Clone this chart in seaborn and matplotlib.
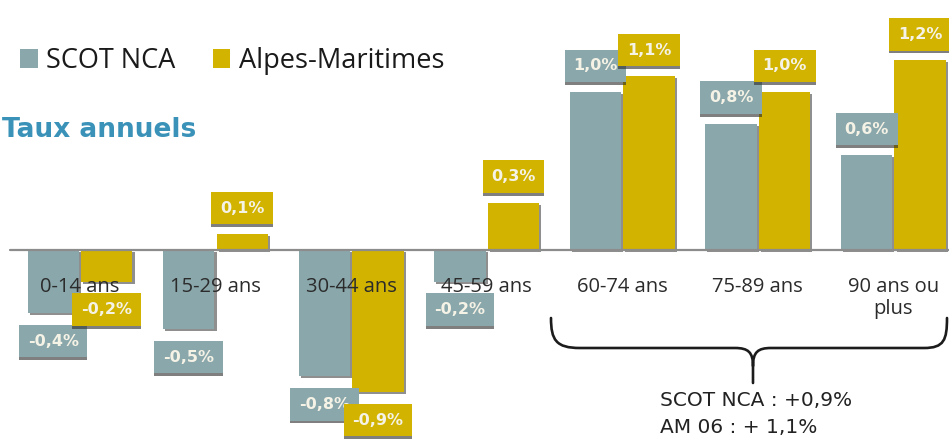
import matplotlib
matplotlib.use("Agg")
import matplotlib.pyplot as plt
import matplotlib.patheffects as pe
from matplotlib.patches import Patch, PathPatch
from matplotlib.path import Path
import pandas as pd
import seaborn as sns

# Age groups and annual growth rates (%)
age_groups = ["0-14 ans", "15-29 ans", "30-44 ans", "45-59 ans",
              "60-74 ans", "75-89 ans", "90 ans ou\nplus"]
scot_nca = [-0.4, -0.5, -0.8, -0.2, 1.0, 0.8, 0.6]
alpes_maritimes = [-0.2, 0.1, -0.9, 0.3, 1.1, 1.0, 1.2]
series_names = ["SCOT NCA", "Alpes-Maritimes"]
summary_lines = ["SCOT NCA : +0,9%", "AM 06 : + 1,1%"]
title_text = "Taux annuels"

GREY = "#8aa7ab"
GOLD = "#d2b300"
LABEL_TXT = "#f5f2e6"

df = pd.DataFrame({
    "age": age_groups * 2,
    "taux": scot_nca + alpes_maritimes,
    "zone": [series_names[0]] * len(age_groups) + [series_names[1]] * len(age_groups),
})

W, H = 949, 440
sns.set_theme(style="white")
plt.rcParams["font.family"] = ["Open Sans", "DejaVu Sans"]

fig = plt.figure(figsize=(W / 100, H / 100), dpi=100)
ax = fig.add_axes([0, 0, 1, 1])

sns.barplot(data=df, x="age", y="taux", hue="zone", order=age_groups,
            hue_order=series_names, palette=[GREY, GOLD],
            width=0.79, gap=0.04, legend=False, ax=ax, saturation=1)

# page geometry: zero line at 250 px from top, ~158 px per 1 %
px_per_unit = 158.0
ax.set_ylim(-(H - 250) / px_per_unit, 250 / px_per_unit)
ax.set_xlim(-0.59, 6.41)
ax.axis("off")

bar_shadow = [pe.SimplePatchShadow(offset=(1.5, -1.5), shadow_rgbFace="#333333", alpha=0.55),
              pe.Normal()]
for p in ax.patches:
    p.set_edgecolor("none")
    p.set_path_effects(bar_shadow)
    p.set_zorder(2)

# zero line
ax.axhline(0, xmin=10 / W, xmax=1, color="#8c8c8c", lw=1.6, zorder=3)

# category labels just under the zero line
for i, lab in enumerate(age_groups):
    ax.text(i, -27 / px_per_unit, lab, ha="center", va="top", fontsize=14.5,
            color="#2b2b2b", linespacing=1.15, zorder=6)

# value labels in coloured boxes
for cont, col in zip(ax.containers, [GREY, GOLD]):
    for bar in cont:
        v = bar.get_height()
        xc = bar.get_x() + bar.get_width() / 2
        off = 26 if v >= 0 else -28
        t = ax.annotate(f"{v:.1f}%".replace(".", ","), (xc, v),
                        xytext=(0, off), textcoords="offset pixels",
                        ha="center", va="center", fontsize=11.5, fontweight="bold",
                        family=["DejaVu Sans"], color=LABEL_TXT, zorder=7,
                        bbox=dict(boxstyle="square,pad=0.55", fc=col, ec="none"))
        t.get_bbox_patch().set_path_effects(
            [pe.SimplePatchShadow(offset=(0, -2), shadow_rgbFace="#2a2a2a", alpha=0.6),
             pe.Normal()])

# legend
handles = [Patch(facecolor=GREY, edgecolor="none"), Patch(facecolor=GOLD, edgecolor="none")]
leg = ax.legend(handles, series_names, loc="center left",
                bbox_to_anchor=(20 / W, 1 - 61 / H), ncol=2, frameon=False,
                fontsize=19.5, handlelength=0.65, handleheight=0.65, handletextpad=0.3,
                columnspacing=1.4, borderpad=0, borderaxespad=0)
for txt in leg.get_texts():
    txt.set_color("#1a1a1a")

# section title
ax.text(2 / W, 1 - 130 / H, title_text, transform=ax.transAxes, ha="left", va="center",
        fontsize=19, fontweight="bold", color="#3a92b8",
        family=["DejaVu Sans"])


# brace grouping the three oldest age groups
def fp(x, y):
    return (x / W, 1 - y / H)

verts = [fp(551, 318), fp(551, 340), fp(556, 348), fp(580, 348),
         fp(735, 348),
         fp(748, 348), fp(753, 352), fp(753, 366),
         fp(753, 383),
         fp(753, 366), fp(753, 352), fp(758, 348), fp(771, 348),
         fp(924, 348),
         fp(944, 348), fp(947, 340), fp(947, 318)]
codes = [Path.MOVETO, Path.CURVE4, Path.CURVE4, Path.CURVE4,
         Path.LINETO,
         Path.CURVE4, Path.CURVE4, Path.CURVE4,
         Path.LINETO,
         Path.MOVETO, Path.CURVE4, Path.CURVE4, Path.CURVE4,
         Path.LINETO,
         Path.CURVE4, Path.CURVE4, Path.CURVE4]
ax.add_patch(PathPatch(Path(verts, codes), fc="none", ec="#1c1c1c", lw=1.9,
                       transform=ax.transAxes, zorder=5, capstyle="round"))

for k, line in enumerate(summary_lines):
    ax.text(660 / W, 1 - (400 + 27 * k) / H, line, transform=ax.transAxes,
            ha="left", va="center", fontsize=14.5, color="#222222",
            family=["DejaVu Sans"])

fig.savefig("out.png", dpi=100, facecolor="white")
